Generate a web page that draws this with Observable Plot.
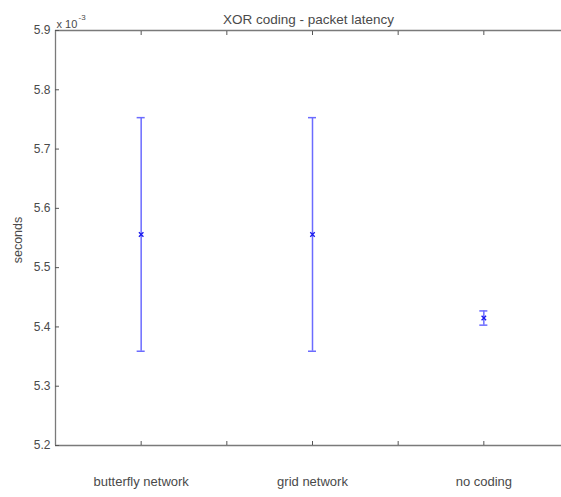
<!DOCTYPE html>
<html>
<head>
<meta charset="utf-8">
<script src="https://cdn.jsdelivr.net/npm/d3@7"></script>
<script src="https://cdn.jsdelivr.net/npm/@observablehq/plot@0.6"></script>
<style>
  html, body { margin: 0; padding: 0; background: #fff; overflow: hidden; }
  #chart svg { overflow: hidden; display: block; }
</style>
</head>
<body>
<div id="chart"></div>
<script>
// ---- data (values in units of 10^-3 seconds) ----
const categories = ["butterfly network", "grid network", "no coding"];
const xPositions = [1, 3, 5];
const means  = [5.556, 5.556, 5.415];
const lowers = [5.359, 5.359, 5.403];
const uppers = [5.753, 5.753, 5.427];
const yTicks = [5.2, 5.3, 5.4, 5.5, 5.6, 5.7, 5.8, 5.9];
const xTicks = [1, 2, 3, 4, 5];
const xDomain = [0, 6];
const yDomain = [5.2, 5.9];
const titleText = "XOR coding - packet latency";
const yLabelText = "seconds";
const exponentBase = "x 10";
const exponentPower = "-3";

const rows = categories.map((c, i) => ({
  category: c, x: xPositions[i], mean: means[i], lo: lowers[i], hi: uppers[i]
}));

const axisColor = "#7a7a7a";
const textColor = "#4a4a4a";
const barColor = "#6b6bff";
const markColor = "#1a1aee";
const capHalf = 0.047;

const chart = Plot.plot({
  width: 561,
  height: 497,
  marginLeft: 55,
  marginRight: 0,
  marginTop: 30,
  marginBottom: 52,
  x: { domain: xDomain, range: [55, 569] },
  y: { domain: yDomain },
  style: { fontFamily: "'Liberation Sans', Arial, Helvetica, sans-serif", fontSize: "12px", color: textColor, background: "#fff" },
  marks: [
    // box lines (left, top, bottom)
    Plot.ruleY(yDomain, { stroke: axisColor, strokeWidth: 1.3 }),
    Plot.ruleX([xDomain[0]], { stroke: axisColor, strokeWidth: 1.3 }),
    // y axis: inward ticks + labels
    Plot.axisY({ anchor: "left", ticks: yTicks, tickSize: -4, tickPadding: 9, tickFormat: d3.format(".1f"), label: null, stroke: "#555", fill: textColor }),
    // x axis bottom ticks (inward), no labels
    Plot.axisX({ anchor: "bottom", ticks: xTicks, tickSize: -4, tickFormat: () => "", label: null, stroke: "#555" }),
    // x axis category labels
    Plot.axisX({ anchor: "bottom", ticks: xPositions, tickSize: 0, tickPadding: 31, fontSize: 13, tickFormat: d => categories[xPositions.indexOf(d)], label: null, fill: textColor }),
    // top mirrored ticks
    Plot.axisX({ anchor: "top", ticks: xTicks, tickSize: -4, tickFormat: () => "", label: null, stroke: "#555" }),
    // error bars
    Plot.ruleX(rows, { x: "x", y1: "lo", y2: "hi", stroke: barColor, strokeWidth: 1.5 }),
    Plot.ruleY(rows, { y: "hi", x1: d => d.x - capHalf, x2: d => d.x + capHalf, stroke: barColor, strokeWidth: 1.5 }),
    Plot.ruleY(rows, { y: "lo", x1: d => d.x - capHalf, x2: d => d.x + capHalf, stroke: barColor, strokeWidth: 1.5 }),
    Plot.dot(rows, { x: "x", y: "mean", symbol: "times", r: 2.2, stroke: markColor, strokeWidth: 1.3 }),
    // title
    Plot.text([titleText], { text: d => d, frameAnchor: "top", dy: -16, fontSize: 13.5, fill: textColor }),
    // y label
    Plot.text([yLabelText], { text: d => d, frameAnchor: "left", textAnchor: "middle", rotate: -90, dx: -38, dy: 2, fontSize: 12.5, fill: textColor }),
    // exponent
    Plot.text([exponentBase], { text: d => d, frameAnchor: "top-left", textAnchor: "start", dx: 1, dy: -10, fontSize: 11, fill: textColor }),
    Plot.text([exponentPower], { text: d => d, frameAnchor: "top-left", textAnchor: "start", dx: 23, dy: -16, fontSize: 8, fill: textColor })
  ]
});
document.getElementById("chart").appendChild(chart);
</script>
</body>
</html>
